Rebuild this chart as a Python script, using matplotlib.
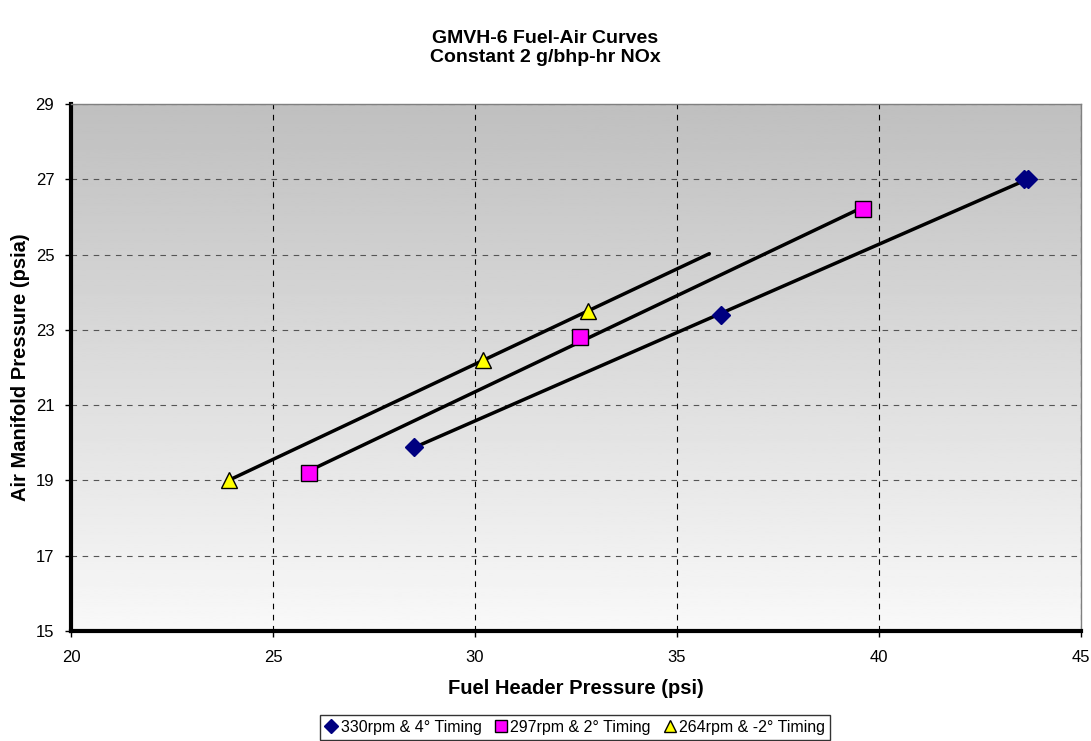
import numpy as np
import matplotlib.pyplot as plt
from matplotlib.lines import Line2D

plt.rcParams['font.family'] = ['Liberation Sans', 'DejaVu Sans']

# data
fuel_330 = [28.5, 36.1, 43.6, 43.7]
air_330 = [19.9, 23.4, 27.0, 27.0]
fuel_297 = [25.9, 32.6, 39.6]
air_297 = [19.2, 22.8, 26.2]
fuel_264 = [23.9, 30.2, 32.8]
air_264 = [19.0, 22.2, 23.5]
forward_264 = 3.0  # trendline forecast forward

labels = ['330rpm & 4\u00b0 Timing', '297rpm & 2\u00b0 Timing', '264rpm & -2\u00b0 Timing']

fig = plt.figure(figsize=(10.91, 7.41), dpi=100)
ax = fig.add_axes([0.0651, 0.1484, 0.9257, 0.7112])

ax.set_xlim(20, 45)
ax.set_ylim(15, 29)

# grey gradient background
grad = np.linspace(0.975, 0.75, 256).reshape(-1, 1)
ax.imshow(grad, cmap='gray', vmin=0, vmax=1, extent=[20, 45, 15, 29],
          aspect='auto', origin='lower', zorder=0)

ax.grid(True, color='black', linestyle=(0, (5, 5)), linewidth=0.8, zorder=1)
for gl in ax.get_ygridlines():
    gl.set_color('#555555')


def trend(ax, xs, ys, fwd=0.0):
    p = np.polyfit(xs, ys, 1)
    xx = np.array([min(xs), max(xs) + fwd])
    ax.plot(xx, np.polyval(p, xx), color='black', lw=2.5, zorder=2,
            solid_capstyle='round')


trend(ax, fuel_330, air_330)
trend(ax, fuel_297, air_297)
trend(ax, fuel_264, air_264, forward_264)

ax.plot(fuel_330, air_330, ls='none', marker='D', ms=9, mfc='#000080',
        mec='#000080', zorder=3)
ax.plot(fuel_297, air_297, ls='none', marker='s', ms=11, mfc='#FF00FF',
        mec='black', mew=1.0, zorder=3)
ax.plot(fuel_264, air_264, ls='none', marker='^', ms=12, mfc='#FFFF00',
        mec='black', mew=1.0, zorder=3)

ax.set_xticks(np.arange(20, 46, 5))
ax.set_yticks(np.arange(15, 30, 2))
ax.tick_params(labelsize=12, direction='out', length=4, width=1)
ax.tick_params(axis='x', pad=10)
ax.tick_params(axis='y', pad=8)

for s in ['left', 'bottom']:
    ax.spines[s].set_linewidth(3)
    ax.spines[s].set_color('black')
for s in ['top', 'right']:
    ax.spines[s].set_linewidth(1)
    ax.spines[s].set_color('#808080')

ax.set_xlabel('Fuel Header Pressure (psi)', fontsize=14.5, fontweight='bold',
              labelpad=10)
ax.set_ylabel('Air Manifold Pressure (psia)', fontsize=14.5, fontweight='bold',
              labelpad=4)

fig.text(0.5, 0.935, 'GMVH-6 Fuel-Air Curves\nConstant 2 g/bhp-hr NOx',
         ha='center', va='center', fontsize=14, fontweight='bold',
         linespacing=1.15)

handles = [
    Line2D([], [], ls='none', marker='D', ms=7, mfc='#000080', mec='#000080'),
    Line2D([], [], ls='none', marker='s', ms=9, mfc='#FF00FF', mec='black'),
    Line2D([], [], ls='none', marker='^', ms=9, mfc='#FFFF00', mec='black'),
]
leg = fig.legend(handles, labels, loc='center', bbox_to_anchor=(0.527, 0.0185),
                 ncol=3, fontsize=11.5, frameon=True, fancybox=False,
                 edgecolor='black', handlelength=0.8, handletextpad=0.2,
                 columnspacing=0.8, borderpad=0.3, borderaxespad=0)
leg.get_frame().set_linewidth(1.0)

fig.savefig('out.png', dpi=100)
